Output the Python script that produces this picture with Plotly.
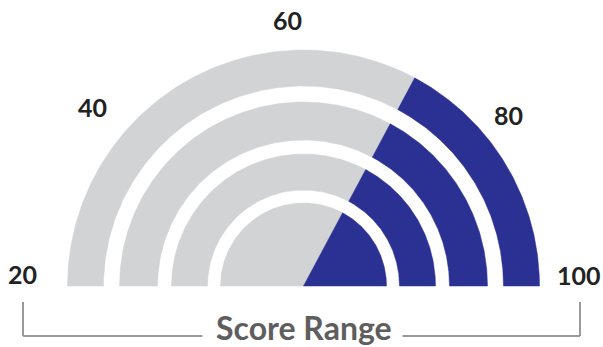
import numpy as np
import plotly.graph_objects as go

# ---- data ----
score_min = 20
score_max = 100
score_value = 72.5
tick_values = [20, 40, 60, 80, 100]
tick_labels = ["20", "40", "60", "80", "100"]
ring_inner = [0, 96, 146, 200]
ring_outer = [83, 132, 184, 236]
axis_title = "Score Range"

GRAY = "#D1D3D4"
BLUE = "#2B3192"


def ang(v):
    return np.pi * (1 - (v - score_min) / (score_max - score_min))


def sector(r0, r1, v0, v1, n=160):
    t = np.linspace(ang(v0), ang(v1), n)
    xo, yo = r1 * np.cos(t), r1 * np.sin(t)
    xi, yi = r0 * np.cos(t[::-1]), r0 * np.sin(t[::-1])
    return (np.concatenate([xo, xi, [xo[0]]]),
            np.concatenate([yo, yi, [yo[0]]]))


fig = go.Figure()
for r0, r1 in zip(ring_inner, ring_outer):
    for v0, v1, col in [(score_min, score_value, GRAY), (score_value, score_max, BLUE)]:
        xs, ys = sector(r0, r1, v0, v1)
        fig.add_trace(go.Scatter(x=xs, y=ys, mode="lines", fill="toself",
                                 fillcolor=col, line=dict(color=col, width=0.5),
                                 hoverinfo="skip", showlegend=False))

# tick labels placed around the gauge
label_radius = [281, 276, 265, 266, 276]
label_nudge_deg = [-2.2, 4.8, 3.5, -5.3, 2.1]
for v, txt, rr, nd in zip(tick_values, tick_labels, label_radius, label_nudge_deg):
    a = ang(v) + np.deg2rad(nd)
    fig.add_annotation(x=rr * np.cos(a), y=rr * np.sin(a) + 1, text=txt,
                       showarrow=False, xanchor="center", yanchor="middle",
                       font=dict(family="Lato", size=25, color="#222222", weight="bold"))

# bracket under the gauge
lx, rx = -280.5, 276.5
ytop, ybot = -16, -50
lc = dict(color="#9A9A9A", width=2)
fig.add_shape(type="line", x0=lx, x1=lx, y0=ytop, y1=ybot, line=lc)
fig.add_shape(type="line", x0=rx, x1=rx, y0=ytop, y1=ybot, line=lc)
fig.add_shape(type="line", x0=lx, x1=-101, y0=ybot, y1=ybot, line=lc)
fig.add_shape(type="line", x0=99, x1=rx, y0=ybot, y1=ybot, line=lc)
fig.add_annotation(x=0, y=-41, text=axis_title, showarrow=False,
                   xanchor="center", yanchor="middle",
                   font=dict(family="Lato", size=32, color="#5E5E5E", weight="bold"))

fig.update_layout(
    width=603, height=347, autosize=False,
    margin=dict(l=0, r=0, t=0, b=0),
    paper_bgcolor="white", plot_bgcolor="white",
    xaxis=dict(range=[-303.5, 299.5], visible=False, fixedrange=True),
    yaxis=dict(range=[-61, 286], visible=False, fixedrange=True),
)
fig.write_html("out.html")
